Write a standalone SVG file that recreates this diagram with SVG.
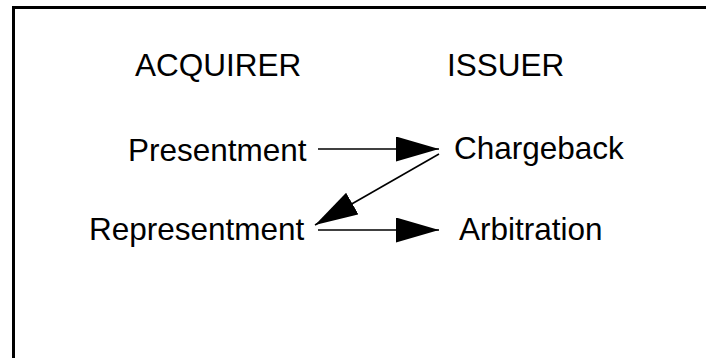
<svg xmlns="http://www.w3.org/2000/svg" width="707" height="358" viewBox="0 0 707 358">
<defs>
<style>
text{font-family:"Liberation Sans",Arial,sans-serif;font-size:31.5px;fill:#000}
.c{stroke:#000;stroke-width:1.6;fill:none}
</style>
<marker id="ah" markerUnits="userSpaceOnUse" markerWidth="46" markerHeight="28" refX="43" refY="12.5" orient="auto">
<path d="M0,0 L43,12.5 L0,25 z" fill="#000"/>
</marker>
</defs>
<rect width="707" height="358" fill="#fff"/>
<path d="M13.5,358 V7.5 H706" fill="none" stroke="#000" stroke-width="3"/>
<g id="acquirer"><text x="135" y="76">ACQUIRER</text></g>
<g id="issuer"><text x="447" y="76">ISSUER</text></g>
<g id="presentment"><text x="128" y="161">Presentment</text></g>
<g id="chargeback"><text x="454" y="159">Chargeback</text></g>
<g id="representment"><text x="89" y="240">Representment</text></g>
<g id="arbitration"><text x="459" y="240">Arbitration</text></g>
<g id="connectors">
<line class="c" x1="318" y1="149" x2="439" y2="149" marker-end="url(#ah)"/>
<line class="c" x1="439" y1="154" x2="315" y2="225" marker-end="url(#ah)"/>
<line class="c" x1="318" y1="230" x2="439" y2="230" marker-end="url(#ah)"/>
</g>
</svg>
